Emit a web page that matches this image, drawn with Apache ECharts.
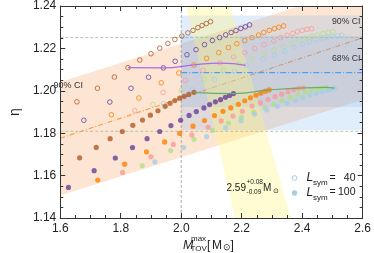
<!DOCTYPE html>
<html><head><meta charset="utf-8">
<script src="https://cdn.jsdelivr.net/npm/echarts@6/dist/echarts.min.js"></script>
<style>html,body{margin:0;padding:0;background:#fff}#c{width:374px;height:253px}</style>
</head><body><div id="c"></div>
<script>
// ---------- data ----------
const xTicks = [1.6, 1.8, 2.0, 2.2, 2.4, 2.6];
const yTicks = [1.14, 1.16, 1.18, 1.20, 1.22, 1.24];

// L_sym = 40 (open circles)
const brownOpen = [[1.655,1.1948],[1.723,1.2012],[1.779,1.2065],[1.824,1.2109],[1.863,1.2145],[1.900,1.2175],[1.929,1.2201],[1.956,1.2223],[1.979,1.2242],[2.002,1.2258],[2.022,1.2273],[2.039,1.2285],[2.055,1.2298],[2.069,1.2308],[2.083,1.2317],[2.097,1.2326]];
const purpleOpen = [[1.678,1.1861],[1.764,1.1947],[1.834,1.2012],[1.892,1.2064],[1.941,1.2108],[1.980,1.2139],[2.019,1.2170],[2.049,1.2194],[2.077,1.2218],[2.103,1.2237],[2.127,1.2251],[2.147,1.2264],[2.165,1.2275],[2.181,1.2284],[2.197,1.2294],[2.212,1.2302],[2.226,1.2311]];
const orangeOpen = [[1.769,1.1887],[1.860,1.1966],[1.934,1.2038],[1.992,1.2084],[2.042,1.2122],[2.084,1.2153],[2.124,1.2180],[2.156,1.2204],[2.184,1.2222],[2.210,1.2237],[2.234,1.2251],[2.256,1.2263],[2.273,1.2275],[2.291,1.2285],[2.308,1.2293],[2.323,1.2300],[2.339,1.2306]];
const pinkOpen = [[1.847,1.1906],[1.940,1.1993],[2.014,1.2050],[2.072,1.2097],[2.128,1.2131],[2.173,1.2160],[2.210,1.2180],[2.243,1.2200],[2.274,1.2218],[2.306,1.2235],[2.329,1.2251],[2.350,1.2262],[2.369,1.2271],[2.384,1.2279],[2.400,1.2285],[2.416,1.2290],[2.431,1.2293]];
const greenOpen = [[1.906,1.1935],[2.000,1.2002],[2.076,1.2054],[2.140,1.2097],[2.191,1.2125],[2.234,1.2153],[2.275,1.2175],[2.307,1.2193],[2.339,1.2208],[2.365,1.2223],[2.391,1.2237],[2.412,1.2249],[2.432,1.2257],[2.451,1.2263],[2.469,1.2270],[2.486,1.2275],[2.501,1.2279]];
const lblueOpen = [[1.942,1.1939],[2.037,1.2005],[2.110,1.2054],[2.176,1.2093],[2.214,1.2120],[2.271,1.2149],[2.309,1.2167],[2.343,1.2186],[2.373,1.2205],[2.400,1.2220],[2.424,1.2232],[2.445,1.2241],[2.465,1.2248],[2.483,1.2252],[2.501,1.2257],[2.517,1.2259],[2.531,1.2262]];

// L_sym = 100 (filled circles)
const brownFill = [[1.664,1.1684],[1.719,1.1733],[1.765,1.1774],[1.805,1.1808],[1.840,1.1837],[1.872,1.1862],[1.898,1.1885],[1.923,1.1906],[1.947,1.1927],[1.963,1.1941],[1.979,1.1954],[1.995,1.1965],[2.010,1.1974],[2.025,1.1983],[2.042,1.1993]];
const purpleFill = [[1.627,1.1544],[1.712,1.1623],[1.782,1.1683],[1.839,1.1732],[1.887,1.1774],[1.929,1.1808],[1.966,1.1836],[1.998,1.1861],[2.026,1.1884],[2.050,1.1902],[2.075,1.1919],[2.094,1.1935],[2.113,1.1948],[2.130,1.1958],[2.146,1.1969],[2.160,1.1978],[2.173,1.1987]];
const orangeFill = [[1.724,1.1579],[1.813,1.1654],[1.885,1.1712],[1.945,1.1759],[1.995,1.1799],[2.039,1.1833],[2.077,1.1860],[2.110,1.1883],[2.138,1.1903],[2.164,1.1919],[2.189,1.1936],[2.210,1.1953],[2.229,1.1967],[2.247,1.1979],[2.263,1.1989],[2.278,1.1998],[2.291,1.2004]];
const pinkFill = [[1.806,1.1615],[1.900,1.1689],[1.974,1.1747],[2.035,1.1792],[2.089,1.1828],[2.132,1.1858],[2.171,1.1881],[2.202,1.1903],[2.234,1.1928],[2.262,1.1944],[2.287,1.1959],[2.310,1.1973],[2.332,1.1984],[2.353,1.1996],[2.372,1.2005],[2.388,1.2012],[2.403,1.2014]];
const greenFill = [[1.871,1.1646],[1.965,1.1718],[2.042,1.1771],[2.103,1.1813],[2.156,1.1848],[2.199,1.1875],[2.240,1.1900],[2.276,1.1920],[2.306,1.1936],[2.334,1.1955],[2.361,1.1969],[2.386,1.1982],[2.409,1.1993],[2.430,1.2001],[2.449,1.2008],[2.465,1.2013],[2.479,1.2016]];
const lblueFill = [[1.913,1.1665],[2.008,1.1732],[2.084,1.1784],[2.147,1.1825],[2.198,1.1859],[2.243,1.1890],[2.283,1.1910],[2.318,1.1927],[2.350,1.1942],[2.378,1.1955],[2.402,1.1967],[2.425,1.1979],[2.446,1.1987],[2.465,1.1995],[2.483,1.2002],[2.497,1.2008],[2.507,1.2013]];

// connecting curves
const curveL40 = [[1.824,1.2109],[1.941,1.2108],[2.042,1.2122],[2.128,1.2131],[2.191,1.2125],[2.214,1.2120]];
const curveL100 = [[2.042,1.1993],[2.173,1.1987],[2.291,1.2004],[2.403,1.2014],[2.479,1.2016],[2.507,1.2013]];

// confidence bands and reference lines
const peachBand = [[1.6,1.1506],[2.6,1.1958],[2.6,1.2494],[1.6,1.2042]];
const blue90Band = [[2.0,1.1815],[2.6,1.1815],[2.6,1.2355],[2.0,1.2355]];
const blue68Band = [[2.0,1.1924],[2.6,1.1924],[2.6,1.2260],[2.0,1.2260]];
const yellowBand = [[2.0164,1.24],[2.1623,1.24],[2.3629,1.14],[2.1777,1.14]];
const peachCenter = [[1.6,1.1776],[2.6,1.2250]];
const blueCenter = [[2.0,1.2086],[2.6,1.2086]];
const refLevelsY = [1.2251, 1.1809];
const refLevelX = 2.0;

// ---------- style ----------
const C = {brown:'#b15928', purple:'#6a3d9a', orange:'#ff7f00', pink:'#fb9a99', green:'#b2df8a', lblue:'#a6cee3'};
const FONT = '"Liberation Sans", Arial, sans-serif';

function band(poly, fill, z){
  return {type:'custom', coordinateSystem:'cartesian2d', data:[[poly[0][0], poly[0][1]]], clip:true, silent:true, z,
    renderItem:(p, api)=>({type:'polygon', shape:{points: poly.map(pt=>api.coord(pt))}, style:{fill}})};
}
function openS(data, col){
  return {type:'scatter', data, symbol:'circle', symbolSize:4.6, z:7, silent:true,
    itemStyle:{color:'rgba(255,255,255,0)', borderColor:col, borderWidth:1}};
}
function fillS(data, col){
  return {type:'scatter', data, symbol:'circle', symbolSize:5.2, z:7, silent:true, itemStyle:{color:col}};
}
function lineS(data, col, type, w, z, smooth){
  return {type:'line', data, showSymbol:false, symbol:'none', smooth:!!smooth, z, silent:true,
    lineStyle:{color:col, type, width:w}};
}

const series = [
  band(peachBand, 'rgba(250,170,110,0.30)', 1),
  lineS(peachCenter, '#ff9a3c', [5,2,1,2], 1.1, 2),
  band(blue90Band, 'rgba(100,170,240,0.20)', 3),
  band(blue68Band, 'rgba(90,150,225,0.15)', 3),
  band(yellowBand, 'rgba(255,245,120,0.33)', 4),
  lineS([[xTicks[0],refLevelsY[0]],[xTicks[xTicks.length-1],refLevelsY[0]]], '#a3b896', [3,2], 0.8, 5),
  lineS([[xTicks[0],refLevelsY[1]],[xTicks[xTicks.length-1],refLevelsY[1]]], '#a3b896', [3,2], 0.8, 5),
  lineS([[refLevelX,yTicks[0]],[refLevelX,yTicks[yTicks.length-1]]], '#999999', [3,2], 0.8, 5),
  lineS(blueCenter, '#4ba0f5', [6,2,1,2], 1.2, 6),
  openS(brownOpen, C.brown), openS(purpleOpen, C.purple), openS(orangeOpen, C.orange),
  openS(pinkOpen, C.pink), openS(greenOpen, C.green), openS(lblueOpen, C.lblue),
  fillS(brownFill, C.brown), fillS(purpleFill, C.purple), fillS(orangeFill, C.orange),
  fillS(pinkFill, C.pink), fillS(greenFill, C.green), fillS(lblueFill, C.lblue),
  lineS(curveL40, '#a96ce6', 'solid', 1.2, 8, true),
  lineS(curveL100, '#6aae66', 'solid', 1.2, 8, true)
];

const axCol = '#333';
function xAx(pos, labels){
  return {type:'value', position:pos, min:xTicks[0], max:xTicks[xTicks.length-1], interval:xTicks[1]-xTicks[0], z:10,
    axisLine:{onZero:false, lineStyle:{color:axCol, width:1}},
    axisTick:{inside:true, length:5, lineStyle:{color:axCol}},
    minorTick:{show:true, splitNumber:4, length:3, lineStyle:{color:axCol}},
    splitLine:{show:false},
    axisLabel:{show:labels, margin:5, color:'#222', fontSize:12, fontFamily:FONT,
      formatter:v=>{const t=xTicks.find(t=>Math.abs(t-v)<1e-6); return t===undefined?'':t.toFixed(1);}}};
}
function yAx(pos, labels){
  const o = {type:'value', position:pos, min:yTicks[0], max:yTicks[yTicks.length-1], interval:yTicks[1]-yTicks[0], z:10,
    axisLine:{onZero:false, lineStyle:{color:axCol, width:1}},
    axisTick:{inside:true, length:5, lineStyle:{color:axCol}},
    minorTick:{show:true, splitNumber:4, length:3, lineStyle:{color:axCol}},
    splitLine:{show:false},
    axisLabel:{show:labels, margin:4, color:'#222', fontSize:12, fontFamily:FONT,
      formatter:v=>{const t=yTicks.find(t=>Math.abs(t-v)<1e-6); return t===undefined?'':t.toFixed(2);}}};
  if (labels){ o.name='η'; o.nameLocation='middle'; o.nameGap=36; o.nameTextStyle={color:'#222', fontSize:14, fontFamily:FONT}; }
  return o;
}

function txt(text, x, y, size, opts){
  opts = opts || {};
  return {type:'text', x, y, z:20, silent:true, style:{text, fill:opts.fill||'#222',
    font:(opts.italic?'italic ':'')+size+'px '+FONT, align:opts.align||'left', verticalAlign:'middle'}};
}

const graphic = [
  txt('90% CI', 53.5, 85.7, 9, {fill:'#333'}),
  txt('90% CI', 332, 21.5, 8.7, {fill:'#333'}),
  txt('68% CI', 332, 59, 8.7, {fill:'#333'}),
  // M_TOV^max [M_sun]
  txt('M', 183, 245.5, 12.5, {italic:true}),
  txt('max', 191, 238.8, 8),
  txt('TOV', 190.5, 249, 8),
  txt('[', 207, 245.5, 12),
  txt('M', 212, 245.5, 12),
  txt('\u2299', 222.5, 248, 8.5),
  txt(']', 230.5, 245.5, 12),
  // 2.59 +0.08 -0.09 M_sun
  txt('2.59', 226.5, 188.5, 10),
  txt('+0.08', 246.5, 182, 6.5),
  txt('-0.09', 246.5, 192.5, 6.5),
  txt('M', 263, 188.5, 10),
  txt('\u2299', 273, 191, 7),
  // legend
  {type:'circle', z:20, silent:true, shape:{cx:294.5, cy:178, r:2.4}, style:{fill:'#fff', stroke:C.lblue, lineWidth:1}},
  {type:'circle', z:20, silent:true, shape:{cx:294.5, cy:193, r:2.7}, style:{fill:C.lblue}},
  txt('L', 306.5, 178, 12, {italic:true}),
  txt('sym', 313, 183, 8),
  txt('=', 329.5, 178, 10.5),
  txt('40', 355.5, 178, 10.5, {align:'right'}),
  txt('L', 306.5, 192.5, 12, {italic:true}),
  txt('sym', 313, 197.5, 8),
  txt('=', 329.5, 192.5, 10.5),
  txt('100', 355.5, 192.5, 10.5, {align:'right'})
];

const chart = echarts.init(document.getElementById('c'), null, {renderer:'canvas'});
chart.setOption({
  animation:false,
  grid:{left:48, right:8, top:6, bottom:35, containLabel:false},
  xAxis:[xAx('bottom', true), xAx('top', false)],
  yAxis:[yAx('left', true), yAx('right', false)],
  series,
  graphic
});
</script></body></html>
